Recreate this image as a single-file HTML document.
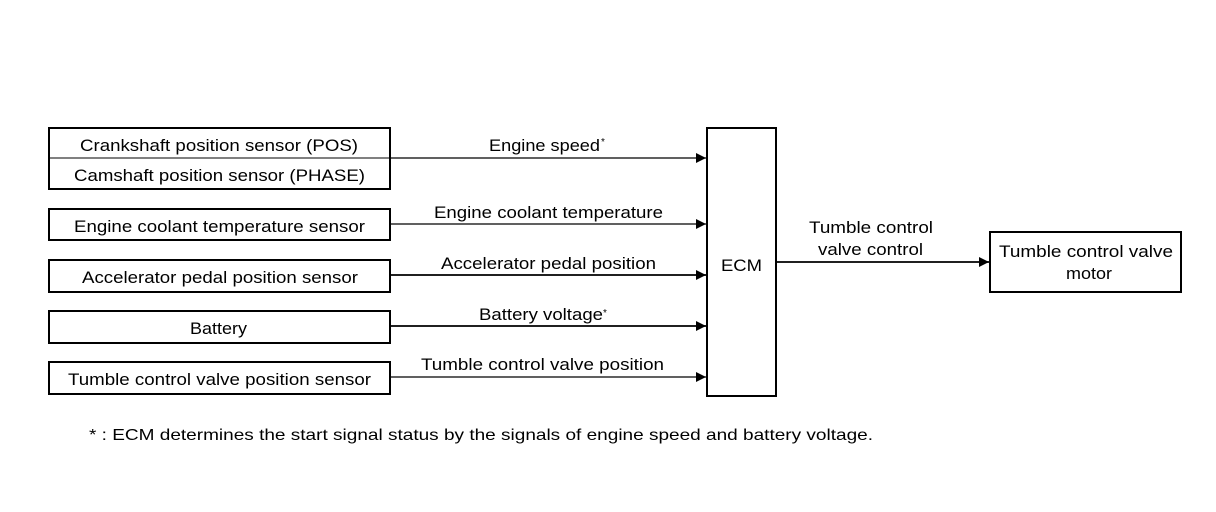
<!DOCTYPE html>
<html><head><meta charset="utf-8"><style>
html,body{margin:0;padding:0;background:#fff;width:1216px;height:512px;overflow:hidden}
svg text{font-family:"Liberation Sans",sans-serif;font-size:17px;fill:#000}
</style></head><body>
<svg width="1216" height="512" viewBox="0 0 1216 512" xmlns="http://www.w3.org/2000/svg">
<defs><marker id="a" markerWidth="10" markerHeight="10" refX="10" refY="5" orient="auto" markerUnits="userSpaceOnUse"><path d="M0,0 L10,5 L0,10 z" fill="#000"/></marker></defs>
<g fill="none" stroke="#000" stroke-width="2">
<rect x="49" y="128" width="341" height="61"/>
<line x1="49" y1="158" x2="390" y2="158" stroke-width="1"/>
<rect x="49" y="209" width="341" height="31"/>
<rect x="49" y="260" width="341" height="32"/>
<rect x="49" y="311" width="341" height="32"/>
<rect x="49" y="362" width="341" height="32"/>
<rect x="707" y="128" width="69" height="268"/>
<rect x="990" y="232" width="191" height="60"/>
</g>
<g stroke="#000" stroke-width="1.2">
<line x1="390" y1="158" x2="706" y2="158" marker-end="url(#a)"/>
<line x1="390" y1="224" x2="706" y2="224" marker-end="url(#a)"/>
<line x1="390" y1="275" x2="706" y2="275" marker-end="url(#a)" stroke-width="1.8"/>
<line x1="390" y1="326" x2="706" y2="326" marker-end="url(#a)" stroke-width="1.8"/>
<line x1="390" y1="377" x2="706" y2="377" marker-end="url(#a)"/>
<line x1="776" y1="262" x2="989" y2="262" marker-end="url(#a)" stroke-width="1.8"/>
</g>
<g lengthAdjust="spacingAndGlyphs">
<text x="80" y="151" textLength="278" lengthAdjust="spacingAndGlyphs">Crankshaft position sensor (POS)</text>
<text x="74" y="181" textLength="291" lengthAdjust="spacingAndGlyphs">Camshaft position sensor (PHASE)</text>
<text x="74" y="232" textLength="291" lengthAdjust="spacingAndGlyphs">Engine coolant temperature sensor</text>
<text x="82" y="283" textLength="276" lengthAdjust="spacingAndGlyphs">Accelerator pedal position sensor</text>
<text x="190" y="334" textLength="57" lengthAdjust="spacingAndGlyphs">Battery</text>
<text x="68" y="385" textLength="303" lengthAdjust="spacingAndGlyphs">Tumble control valve position sensor</text>
<text x="489" y="151" textLength="111" lengthAdjust="spacingAndGlyphs">Engine speed</text>
<text x="434" y="218" textLength="229" lengthAdjust="spacingAndGlyphs">Engine coolant temperature</text>
<text x="441" y="269" textLength="215" lengthAdjust="spacingAndGlyphs">Accelerator pedal position</text>
<text x="479" y="320" textLength="124" lengthAdjust="spacingAndGlyphs">Battery voltage</text>
<text x="421" y="370" textLength="243" lengthAdjust="spacingAndGlyphs">Tumble control valve position</text>
<text x="721" y="271" textLength="41" lengthAdjust="spacingAndGlyphs">ECM</text>
<text x="809" y="233" textLength="124" lengthAdjust="spacingAndGlyphs">Tumble control</text>
<text x="818" y="255" textLength="105" lengthAdjust="spacingAndGlyphs">valve control</text>
<text x="999" y="257" textLength="174" lengthAdjust="spacingAndGlyphs">Tumble control valve</text>
<text x="1066" y="279" textLength="46" lengthAdjust="spacingAndGlyphs">motor</text>
</g>
<text x="601" y="145" style="font-size:10px">*</text>
<text x="603" y="316" style="font-size:10px">*</text>
<text x="89" y="440" style="font-size:16px" textLength="784" lengthAdjust="spacingAndGlyphs">* : ECM determines the start signal status by the signals of engine speed and battery voltage.</text>
</svg>
</body></html>
